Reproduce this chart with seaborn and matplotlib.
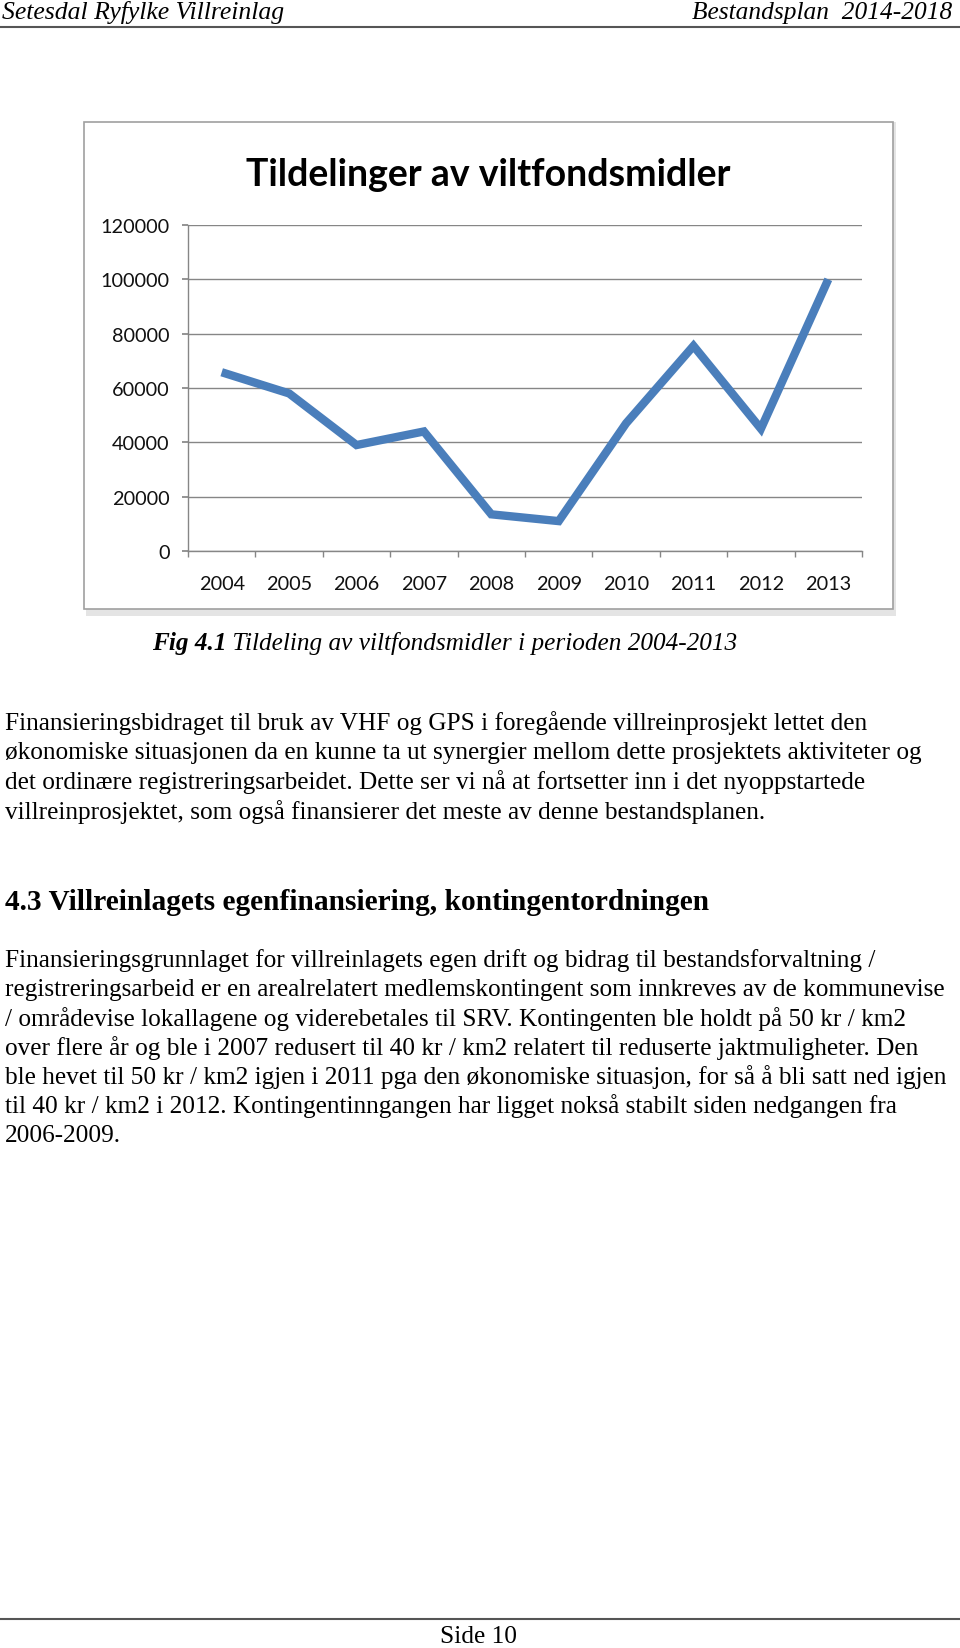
import matplotlib
matplotlib.use("Agg")
import matplotlib.pyplot as plt
import pandas as pd
import seaborn as sns
from matplotlib.patches import Rectangle
from matplotlib.lines import Line2D

# chart data
years = ["2004", "2005", "2006", "2007", "2008", "2009", "2010", "2011", "2012", "2013"]
midler = [65800, 58000, 39000, 44000, 13500, 11000, 47000, 75500, 45000, 100000]
y_ticks = [0, 20000, 40000, 60000, 80000, 100000, 120000]

chart_title = "Tildelinger av viltfondsmidler"
header_left = "Setesdal Ryfylke Villreinlag"
header_right = "Bestandsplan  2014-2018"
caption_bold = "Fig 4.1"
caption_rest = " Tildeling av viltfondsmidler i perioden 2004-2013"
para1 = [
    "Finansieringsbidraget til bruk av VHF og GPS i foregående villreinprosjekt lettet den",
    "økonomiske situasjonen da en kunne ta ut synergier mellom dette prosjektets aktiviteter og",
    "det ordinære registreringsarbeidet. Dette ser vi nå at fortsetter inn i det nyoppstartede",
    "villreinprosjektet, som også finansierer det meste av denne bestandsplanen.",
]
heading = "4.3 Villreinlagets egenfinansiering, kontingentordningen"
para2 = [
    "Finansieringsgrunnlaget for villreinlagets egen drift og bidrag til bestandsforvaltning /",
    "registreringsarbeid er en arealrelatert medlemskontingent som innkreves av de kommunevise",
    "/ områdevise lokallagene og viderebetales til SRV. Kontingenten ble holdt på 50 kr / km2",
    "over flere år og ble i 2007 redusert til 40 kr / km2 relatert til reduserte jaktmuligheter. Den",
    "ble hevet til 50 kr / km2 igjen i 2011 pga den økonomiske situasjon, for så å bli satt ned igjen",
    "til 40 kr / km2 i 2012. Kontingentinngangen har ligget nokså stabilt siden nedgangen fra",
    "2006-2009.",
]
footer = "Side 10"

W, H = 960, 1649
sns.set_theme(style="white")
plt.rcParams["font.family"] = ["Liberation Serif", "DejaVu Serif"]

fig = plt.figure(figsize=(W / 100, H / 100), dpi=100)
fig.patch.set_facecolor("white")


def fx(px):
    return px / W


def fy(py):
    return 1 - py / H


def page_text(x, y, s, **kw):
    return fig.text(fx(x), fy(y), s, va="center", color="black", **kw)


# page header / footer
page_text(2, 13, header_left, ha="left", fontsize=18.5, style="italic")
page_text(952, 13, header_right, ha="right", fontsize=18.3, style="italic")
fig.add_artist(Line2D([0, 1], [fy(28), fy(28)], color="#555555", lw=1.5))
fig.add_artist(Line2D([0, 1], [fy(1620), fy(1620)], color="#555555", lw=1.5))
page_text(479, 1637, footer, ha="center", fontsize=18.3)

# chart frame with a faint shadow
fig.add_artist(Rectangle((fx(86), fy(617)), fx(810), 494 / H, facecolor="#e4e4e4",
                         edgecolor="none", zorder=-2))
fig.add_artist(Rectangle((fx(84), fy(610)), fx(809), 487 / H, facecolor="white",
                         edgecolor="#a0a0a0", lw=1.2, zorder=-1))
page_text(488, 175, chart_title, ha="center", fontsize=27, fontweight="bold",
          family=["Lato", "DejaVu Sans"])

# plot area
ax = fig.add_axes([fx(188), fy(552), fx(862 - 188), (552 - 226) / H])
ax.patch.set_alpha(0)
df = pd.DataFrame({"year": years, "midler": midler})
sns.lineplot(data=df, x="year", y="midler", ax=ax, color="#4a7ebb", lw=6,
             solid_joinstyle="miter", solid_capstyle="butt", sort=False)
ax.set_xlim(-0.5, len(years) - 0.5)
ax.set_ylim(y_ticks[0], y_ticks[-1])
ax.set_yticks(y_ticks)
ax.set_yticklabels([str(v) for v in y_ticks])
ax.set_xticks(range(len(years)))
ax.set_xticklabels(years)
ax.set_xticks([i - 0.5 for i in range(len(years) + 1)], minor=True)
ax.set_xlabel("")
ax.set_ylabel("")
ax.grid(axis="y", color="#868686", lw=1)
ax.set_axisbelow(True)
for side in ["top", "right"]:
    ax.spines[side].set_visible(False)
for side in ["left", "bottom"]:
    ax.spines[side].set_color("#868686")
    ax.spines[side].set_linewidth(1)
ax.tick_params(axis="y", which="major", length=4.3, color="#868686", pad=9,
               labelsize=14.3, labelcolor="#111111", left=True)
ax.tick_params(axis="x", which="major", length=0, pad=17, labelsize=14.3, labelcolor="#111111")
ax.tick_params(axis="x", which="minor", length=4, color="#868686", bottom=True)
for lab in ax.get_xticklabels() + ax.get_yticklabels():
    lab.set_family(["Lato", "DejaVu Sans"])

# caption: bold italic prefix followed by italic text
cap = page_text(152, 644, caption_bold, ha="left", fontsize=18.2, style="italic", fontweight="bold")
renderer = fig.canvas.get_renderer()
cap_end = cap.get_window_extent(renderer).x1
page_text(cap_end, 644, caption_rest, ha="left", fontsize=18.2, style="italic")

# body text
for i, line in enumerate(para1):
    page_text(5, 723.5 + i * 29.4, line, ha="left", fontsize=18.2)
page_text(5, 902, heading, ha="left", fontsize=21.2, fontweight="bold")
for i, line in enumerate(para2):
    page_text(5, 961 + i * 29.1, line, ha="left", fontsize=18.2)

fig.savefig("out.png", dpi=100, facecolor="white")
